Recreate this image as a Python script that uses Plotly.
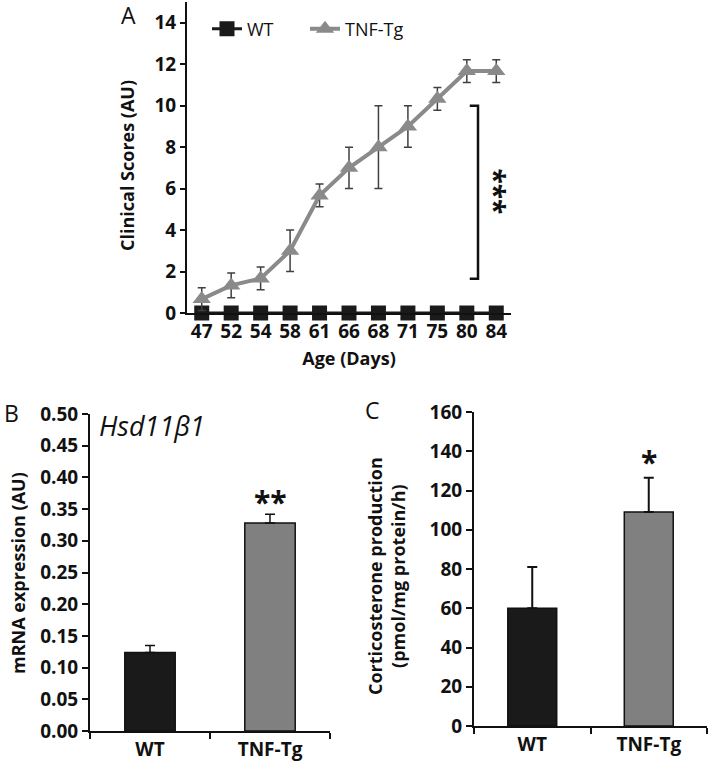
import plotly.graph_objects as go

# ---------------- data ----------------
ages = ["47", "52", "54", "58", "61", "66", "68", "71", "75", "80", "84"]
wt_scores = [0, 0, 0, 0, 0, 0, 0, 0, 0, 0, 0]
tnf_scores = [0.67, 1.33, 1.67, 3.0, 5.67, 7.0, 8.0, 9.0, 10.33, 11.67, 11.67]
tnf_err = [0.55, 0.6, 0.55, 1.0, 0.55, 1.0, 2.0, 1.0, 0.55, 0.55, 0.55]

groups = ["WT", "TNF-Tg"]
mrna_vals = [0.124, 0.328]
mrna_err = [0.011, 0.014]
cort_vals = [60, 109]
cort_err = [21, 17.5]

bracket_y = [1.65, 10]
bracket_x = [9.1, 9.38]

BLACK = "#1a1a1a"
GRAY = "#8a8a8a"
BARGRAY = "#808080"
FONT = "Open Sans"

fig = go.Figure()

# ---------------- Panel A ----------------
fig.add_trace(go.Scatter(
    x=ages, y=wt_scores, name="WT", mode="lines+markers",
    line=dict(color=BLACK, width=3),
    marker=dict(symbol="square", size=15, color=BLACK),
    cliponaxis=False, xaxis="x", yaxis="y"))
fig.add_trace(go.Scatter(
    x=ages, y=tnf_scores, name="TNF-Tg", mode="lines+markers",
    line=dict(color=GRAY, width=4),
    marker=dict(symbol="triangle-up", size=16, color=GRAY),
    error_y=dict(type="data", array=tnf_err, color="#404040", thickness=1.5, width=4),
    cliponaxis=False, xaxis="x", yaxis="y"))

# ---------------- Panel B ----------------
fig.add_trace(go.Bar(
    x=groups, y=mrna_vals, width=0.42, showlegend=False,
    marker=dict(color=[BLACK, BARGRAY], line=dict(color="#111111", width=1.5)),
    error_y=dict(type="data", array=mrna_err, symmetric=False, arrayminus=[0, 0],
                 color="#111111", thickness=1.5, width=5),
    xaxis="x2", yaxis="y2"))

# ---------------- Panel C ----------------
fig.add_trace(go.Bar(
    x=groups, y=cort_vals, width=0.42, showlegend=False,
    marker=dict(color=[BLACK, BARGRAY], line=dict(color="#111111", width=1.5)),
    error_y=dict(type="data", array=cort_err, symmetric=False, arrayminus=[0, 0],
                 color="#111111", thickness=2, width=5),
    xaxis="x3", yaxis="y3"))

tickfont = dict(family=FONT, size=19, color="#111111", weight="bold")
axline = dict(showline=True, linecolor="#111111", linewidth=2, showgrid=False,
              zeroline=False, ticks="outside", tickcolor="#111111", tickwidth=2,
              automargin=False)

fig.update_layout(
    width=709, height=762,
    margin=dict(l=0, r=0, t=0, b=0, autoexpand=False),
    paper_bgcolor="white", plot_bgcolor="white",
    font=dict(family=FONT, color="#111111"),
    showlegend=True,
    legend=dict(orientation="h", x=207/709, y=1-29/762, xanchor="left", yanchor="middle",
                font=dict(family=FONT, size=18, color="#111111"),
                bgcolor="rgba(0,0,0,0)", itemwidth=30, tracegroupgap=0,
                entrywidth=53),
    xaxis=dict(domain=[187/709, 511/709], anchor="y", type="category",
               range=[-0.5, 10.5], tickfont=tickfont, ticks="", showline=True,
               linecolor="#111111", linewidth=2, showgrid=False, zeroline=False,
               automargin=False,
               title=dict(text="Age (Days)", font=dict(family=FONT, size=18, weight="bold"),
                          standoff=10)),
    yaxis=dict(domain=[1-313/762, 1-2/762], anchor="x", range=[0, 15],
               tickvals=[0, 2, 4, 6, 8, 10, 12, 14], tickfont=tickfont, ticklen=5,
               **axline),
    xaxis2=dict(domain=[90/709, 330/709], anchor="y2", type="category",
                range=[-0.5, 1.5], tickfont=tickfont, tickson="boundaries", ticklen=6,
                **axline),
    yaxis2=dict(domain=[1-731/762, 1-414/762], anchor="x2", range=[0, 0.5],
                tickvals=[0, 0.05, 0.1, 0.15, 0.2, 0.25, 0.3, 0.35, 0.4, 0.45, 0.5],
                tickformat=".2f", tickfont=tickfont, ticklen=6, **axline),
    xaxis3=dict(domain=[474/709, 707/709], anchor="y3", type="category",
                range=[-0.5, 1.5], tickfont=tickfont, tickson="boundaries", ticklen=6,
                **axline),
    yaxis3=dict(domain=[1-726/762, 1-412/762], anchor="x3", range=[0, 160],
                tickvals=[0, 20, 40, 60, 80, 100, 120, 140, 160],
                tickfont=tickfont, ticklen=6, **axline),
)

# bracket with significance
fig.add_shape(type="path", xref="x", yref="y",
              path=f"M {bracket_x[0]},{bracket_y[1]} L {bracket_x[1]},{bracket_y[1]} "
                   f"L {bracket_x[1]},{bracket_y[0]} L {bracket_x[0]},{bracket_y[0]}",
              line=dict(color="#111111", width=2.5))

annos = [
    # axis titles
    dict(text="Clinical Scores (AU)", x=127/709, y=1-166/762, textangle=-90),
    dict(text="mRNA expression (AU)", x=18/709, y=1-573/762, textangle=-90),
    dict(text="Corticosterone production<br>(pmol/mg protein/h)", x=386/709,
         y=1-576/762, textangle=-90),
]
for a in annos:
    fig.add_annotation(xref="paper", yref="paper", showarrow=False,
                       xanchor="center", yanchor="middle",
                       font=dict(family=FONT, size=18, color="#111111", weight="bold"), **a)

# panel letters
for letter, px, py in [("A", 128, 15), ("B", 11, 413), ("C", 373, 410)]:
    fig.add_annotation(text=letter, xref="paper", yref="paper", x=px/709, y=1-py/762,
                       showarrow=False, xanchor="center", yanchor="middle",
                       font=dict(family=FONT, size=23, color="#111111"))

# significance stars
fig.add_annotation(text="***", xref="x", yref="y", x=9.95, y=5.87, textangle=90,
                   showarrow=False, font=dict(family=FONT, size=28, color="#111111",
                                              weight="bold"))
fig.add_annotation(text="**", xref="x2", yref="y2", x="TNF-Tg", y=0.362,
                   showarrow=False, font=dict(family=FONT, size=30, color="#111111",
                                              weight="bold"))
fig.add_annotation(text="*", xref="x3", yref="y3", x="TNF-Tg", y=135,
                   showarrow=False, font=dict(family=FONT, size=30, color="#111111",
                                              weight="bold"))
# gene name
fig.add_annotation(text="<i>Hsd11β1</i>", xref="paper", yref="paper",
                   x=152/709, y=1-425/762, showarrow=False,
                   xanchor="center", yanchor="middle",
                   font=dict(family=FONT, size=27, color="#111111"))

fig.write_html("out.html", config={"displayModeBar": False},
               post_script="document.body.style.margin='0';document.body.style.padding='0';")
